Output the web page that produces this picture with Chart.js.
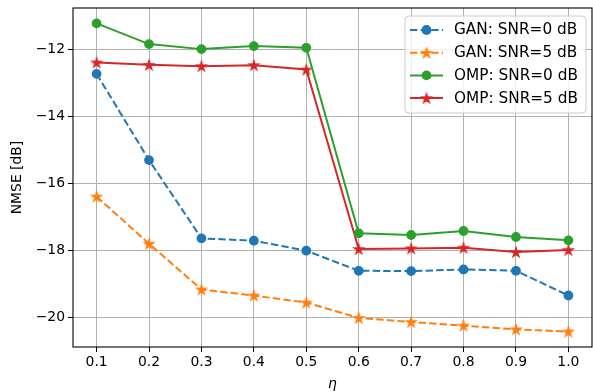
<!DOCTYPE html>
<html>
<head>
<meta charset="utf-8">
<script src="https://cdn.jsdelivr.net/npm/chart.js@4.4.0/dist/chart.umd.min.js"></script>
<style>
html,body{margin:0;padding:0;background:#fff;}
#wrap{position:relative;width:593px;height:392px;}
</style>
</head>
<body>
<div id="wrap"><canvas id="c" width="593" height="392"></canvas></div>
<script>
// ---- data ----
const eta = [0.1, 0.2, 0.3, 0.4, 0.5, 0.6, 0.7, 0.8, 0.9, 1.0];
const ganSnr0 = [-12.72, -15.30, -17.64, -17.71, -18.01, -18.61, -18.62, -18.57, -18.61, -19.35];
const ganSnr5 = [-16.39, -17.80, -19.17, -19.35, -19.56, -20.02, -20.14, -20.25, -20.36, -20.43];
const ompSnr0 = [-11.21, -11.83, -11.98, -11.89, -11.94, -17.49, -17.54, -17.42, -17.60, -17.70];
const ompSnr5 = [-12.38, -12.45, -12.49, -12.46, -12.59, -17.96, -17.94, -17.92, -18.05, -17.99];
const seriesLabels = ['GAN: SNR=0 dB', 'GAN: SNR=5 dB', 'OMP: SNR=0 dB', 'OMP: SNR=5 dB'];
const xTicks = [0.1, 0.2, 0.3, 0.4, 0.5, 0.6, 0.7, 0.8, 0.9, 1.0];
const xTickLabels = ['0.1', '0.2', '0.3', '0.4', '0.5', '0.6', '0.7', '0.8', '0.9', '1.0'];
const yTicks = [-20, -18, -16, -14, -12];
const yTickLabels = ['\u221220', '\u221218', '\u221216', '\u221214', '\u221212'];
const xLabel = '\u03b7';
const yLabel = 'NMSE [dB]';

const FONT = 'DejaVu Sans';
const FS = 13.9;
const LFS = 15.3;

function starImage(color) {
  const s = 14;
  const c = document.createElement('canvas');
  c.width = s; c.height = s;
  const g = c.getContext('2d');
  const R = 5.0, r = R * 0.381966, cx = s / 2, cy = s / 2 + 0.5;
  g.beginPath();
  for (let i = 0; i < 10; i++) {
    const a = -Math.PI / 2 + i * Math.PI / 5;
    const rr = i % 2 === 0 ? R : r;
    const px = cx + rr * Math.cos(a), py = cy + rr * Math.sin(a);
    if (i === 0) g.moveTo(px, py); else g.lineTo(px, py);
  }
  g.closePath();
  g.fillStyle = color;
  g.fill();
  g.lineWidth = 1.3;
  g.strokeStyle = color;
  g.lineJoin = 'miter';
  g.stroke();
  return c;
}

const toPts = arr => eta.map((x, i) => ({x: x, y: arr[i]}));
const colors = ['#1f77b4', '#ff7f0e', '#2ca02c', '#d62728'];
const dashed = [true, true, false, false];
const marker = ['circle', 'star', 'circle', 'star'];
const values = [ganSnr0, ganSnr5, ompSnr0, ompSnr5];

const datasets = values.map((v, k) => {
  const ps = marker[k] === 'star' ? starImage(colors[k]) : 'circle';
  return {
    label: seriesLabels[k],
    data: toPts(v),
    borderColor: colors[k],
    backgroundColor: colors[k],
    borderWidth: 2,
    borderDash: dashed[k] ? [7.4, 3.2] : [],
    pointStyle: ps,
    pointRadius: 4.2,
    pointBorderWidth: 1.4,
    pointBackgroundColor: colors[k],
    pointBorderColor: colors[k],
    tension: 0,
    fill: false
  };
});

const framePlugin = {
  id: 'frame',
  afterDraw(chart) {
    const {ctx, chartArea: a} = chart;
    ctx.save();
    ctx.strokeStyle = '#000';
    ctx.lineWidth = 1.1;
    ctx.strokeRect(a.left, a.top, a.right - a.left, a.bottom - a.top);
    ctx.restore();

    // legend (matplotlib style, upper right inside)
    const bx = 405, by = 16, bw = 181, bh = 97, rad = 4;
    ctx.save();
    ctx.beginPath();
    ctx.moveTo(bx + rad, by);
    ctx.lineTo(bx + bw - rad, by);
    ctx.arcTo(bx + bw, by, bx + bw, by + rad, rad);
    ctx.lineTo(bx + bw, by + bh - rad);
    ctx.arcTo(bx + bw, by + bh, bx + bw - rad, by + bh, rad);
    ctx.lineTo(bx + rad, by + bh);
    ctx.arcTo(bx, by + bh, bx, by + bh - rad, rad);
    ctx.lineTo(bx, by + rad);
    ctx.arcTo(bx, by, bx + rad, by, rad);
    ctx.closePath();
    ctx.fillStyle = 'rgba(255,255,255,0.8)';
    ctx.fill();
    ctx.strokeStyle = '#cccccc';
    ctx.lineWidth = 1;
    ctx.stroke();
    chart.data.datasets.forEach((ds, i) => {
      const yy = 30 + i * 22.7;
      ctx.beginPath();
      ctx.setLineDash(ds.borderDash || []);
      ctx.strokeStyle = ds.borderColor;
      ctx.lineWidth = ds.borderWidth;
      ctx.moveTo(410, yy);
      ctx.lineTo(443, yy);
      ctx.stroke();
      ctx.setLineDash([]);
      if (ds.pointStyle === 'circle') {
        ctx.beginPath();
        ctx.arc(426.5, yy, 4.9, 0, Math.PI * 2);
        ctx.fillStyle = ds.borderColor;
        ctx.fill();
      } else {
        const img = ds.pointStyle;
        ctx.drawImage(img, 426.5 - img.width / 2, yy - img.height / 2);
      }
      ctx.fillStyle = '#000';
      ctx.font = LFS + 'px "' + FONT + '"';
      ctx.textBaseline = 'middle';
      ctx.textAlign = 'left';
      ctx.fillText(ds.label, 454, yy + 0.5);
    });
    ctx.restore();
  }
};

new Chart(document.getElementById('c'), {
  type: 'line',
  data: {datasets: datasets},
  plugins: [framePlugin],
  options: {
    responsive: false,
    animation: false,
    devicePixelRatio: 1,
    layout: {autoPadding: false, padding: {top: 8, right: 1, left: 0, bottom: 0}},
    plugins: {legend: {display: false}, tooltip: {enabled: false}},
    scales: {
      x: {
        type: 'linear',
        min: 0.055,
        max: 1.045,
        afterBuildTicks: s => { s.ticks = xTicks.map(v => ({value: v})); },
        afterFit: s => { s.height = 45; s.paddingLeft = 0; s.paddingRight = 0; },
        ticks: {
          autoSkip: false, maxRotation: 0, minRotation: 0,
          padding: 2,
          color: '#000',
          font: {family: FONT, size: FS},
          callback: (v, i) => xTickLabels[i]
        },
        grid: {color: '#b0b0b0', lineWidth: 1, tickColor: '#000', tickLength: 5, tickWidth: 1},
        border: {display: false},
        title: {display: true, text: xLabel, color: '#000', font: {family: FONT, size: FS, style: 'italic', lineHeight: 1}, padding: {top: 0, bottom: 1}}
      },
      y: {
        type: 'linear',
        min: -20.89,
        max: -10.75,
        afterBuildTicks: s => { s.ticks = yTicks.map(v => ({value: v})); },
        afterFit: s => { s.width = 73; s.paddingTop = 0; s.paddingBottom = 0; },
        ticks: {
          autoSkip: false,
          padding: 3,
          color: '#000',
          font: {family: FONT, size: FS},
          callback: (v, i) => yTickLabels[i]
        },
        grid: {color: '#b0b0b0', lineWidth: 1, tickColor: '#000', tickLength: 5, tickWidth: 1},
        border: {display: false},
        title: {display: true, text: yLabel, color: '#000', font: {family: FONT, size: FS}, padding: {top: 9, bottom: 0}}
      }
    }
  }
});
</script>
</body>
</html>
